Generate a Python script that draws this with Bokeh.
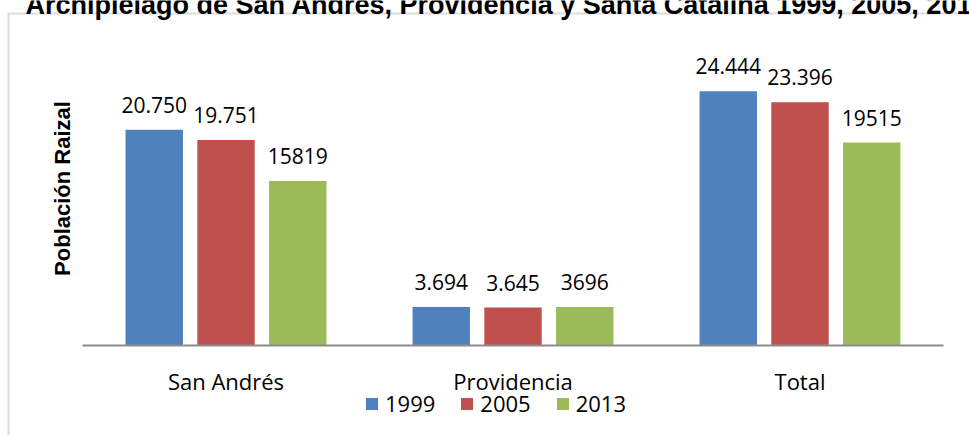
from bokeh.plotting import figure
from bokeh.models import (ColumnDataSource, Range1d, Label, BoxAnnotation,
                          Legend, LegendItem)
from bokeh.transform import dodge
from bokeh.core.properties import value
from bokeh.embed import file_html
from bokeh.resources import INLINE

# ---------------- data ----------------
categories = ["San Andrés", "Providencia", "Total"]
years = ["1999", "2005", "2013"]
v1999 = [20750, 3694, 24444]
v2005 = [19751, 3645, 23396]
v2013 = [15819, 3696, 19515]
l1999 = ["20.750", "3.694", "24.444"]
l2005 = ["19.751", "3.645", "23.396"]
l2013 = ["15819", "3696", "19515"]
title_text = "Archipiélago de San Andrés, Providencia y Santa Catalina 1999, 2005, 2013"
y_title = "Población Raizal"

colors = ["#4F81BD", "#C0504D", "#9BBB59"]

# ---------------- layout (pixels) ----------------
W, H = 969, 435
AX_LEFT, AX_RIGHT = 82, 943          # x-axis line extent
AX_Y, PLOT_TOP = 345, 33             # baseline (0) and top of value range
Y_MAX = 30000
TXT_SHIFT = 8                        # compensation for svg text baseline placement
px_x = (AX_RIGHT - AX_LEFT) / len(categories)
px_y = (AX_Y - PLOT_TOP) / Y_MAX


def dx(px):
    return (px - AX_LEFT) / px_x


def dy(py):
    return (AX_Y - py) / px_y


x_range = Range1d(dx(0), dx(W))
y_range = Range1d(dy(H), dy(0))

centers = [i + 0.5 for i in range(len(categories))]
src = ColumnDataSource(dict(x=centers, cat=categories, zero=[0] * len(categories),
                            v1999=v1999, v2005=v2005, v2013=v2013,
                            l1999=l1999, l2005=l2005, l2013=l2013))

p = figure(width=W, height=H, output_backend="svg", toolbar_location=None,
           x_range=x_range, y_range=y_range,
           min_border=0, min_border_left=0, min_border_right=0,
           min_border_top=0, min_border_bottom=0)
p.outline_line_color = None
p.grid.visible = False
p.xaxis.visible = False
p.yaxis.visible = False

# frame box (left and top border lines)
p.add_layout(BoxAnnotation(left=dx(8), right=dx(W + 50), top=dy(13), bottom=dy(H + 50),
                           fill_alpha=0, line_color="#8C8C8C", line_width=2))

items = []
for year, col, lab, off, color in zip(years, ["v1999", "v2005", "v2013"],
                                      ["l1999", "l2005", "l2013"], [-0.25, 0, 0.25], colors):
    r = p.vbar(x=dodge("x", off), top=col, width=0.2, source=src,
               fill_color=color, line_color=None)
    items.append(LegendItem(label=year, renderers=[r]))
    p.text(x=dodge("x", off), y=col, text=lab, source=src,
           text_font=value("Open Sans"), text_font_size="21px", text_align="center",
           text_baseline="alphabetic", y_offset=-17 - TXT_SHIFT, text_color="#000000")

# category axis line and labels
p.segment(x0=0, x1=len(categories), y0=0, y1=0, line_color="#8C8C8C", line_width=2)
p.text(x="x", y="zero", text="cat", source=src, text_font=value("Open Sans"),
       text_font_size="22px", text_align="center", text_baseline="alphabetic",
       y_offset=43 - TXT_SHIFT, text_color="#000000")

legend = Legend(items=items, orientation="horizontal", location=(364, H - 418),
                glyph_width=15, glyph_height=15, label_height=15, label_standoff=6,
                spacing=24, padding=0, margin=0, border_line_color=None,
                background_fill_alpha=0,
                label_text_font="Open Sans", label_text_font_size="22px",
                label_text_color="#000000")
p.add_layout(legend, "center")

p.add_layout(Label(x=dx(25), y=dy(4), text=title_text,
                   text_font="Liberation Sans", text_font_style="bold",
                   text_font_size="27px", text_baseline="alphabetic", text_color="#000000"))
p.add_layout(Label(x=dx(70 - TXT_SHIFT), y=dy(188), text=y_title,
                   angle=1.5707963, text_font="Liberation Sans", text_font_style="bold",
                   text_font_size="22px", text_align="center", text_baseline="alphabetic",
                   text_color="#000000"))

open("out.html", "w").write(file_html(p, INLINE))
